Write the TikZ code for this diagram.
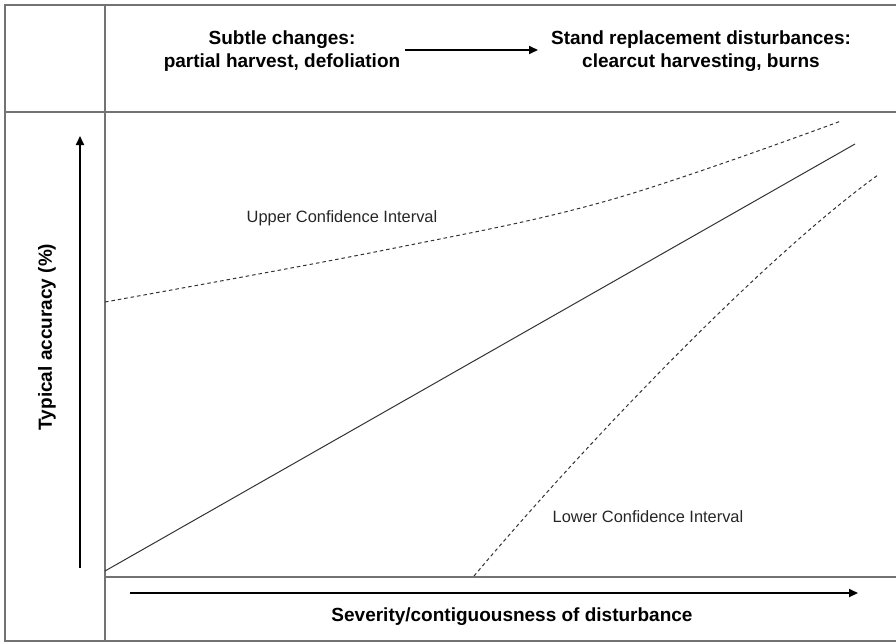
\documentclass[tikz,border=0pt]{standalone}
\usepackage{fontspec}
\setmainfont{Liberation Sans}
\usetikzlibrary{arrows.meta}

\begin{document}
\begin{tikzpicture}[x=1pt,y=-1pt,
  frame/.style={draw=black!55, line width=1.5pt},
  axisarrow/.style={line width=2pt, -{Triangle[length=9pt,width=8pt]}},
  heading/.style={font=\fontsize{19}{22}\selectfont\bfseries, anchor=base, inner sep=0pt},
  cilabel/.style={font=\fontsize{16.4}{19}\selectfont, text=black!85, inner sep=0pt},
  ciline/.style={draw=black!80, line width=1pt, dash pattern=on 3.5pt off 3pt},
  fitline/.style={draw=black!80, line width=1pt}]
\useasboundingbox (0,0) rectangle (896,642);

% table frame
\draw[frame] (896,5) -- (5,5) -- (5,641) -- (896,641);
\draw[frame] (105,5) -- (105,641);
\draw[frame] (5,112) -- (896,112);
\draw[frame] (105,577) -- (896,577);

% header: from subtle changes to stand replacement
\node[heading] (sub1) at (282,45) {Subtle changes:};
\node[heading] (sub2) at (282,67) {partial harvest, defoliation};
\node[heading] (std1) at (701,45) {Stand replacement disturbances:};
\node[heading] (std2) at (701,67) {clearcut harvesting, burns};
\coordinate (hA) at (405,50);
\coordinate (hB) at (538,50);
\draw[axisarrow] (hA) -- (hB);

% axes
\coordinate (yA) at (80,568);
\coordinate (yB) at (80,136);
\draw[axisarrow] (yA) -- (yB);
\node[font=\fontsize{19}{22}\selectfont\bfseries, rotate=90, inner sep=0pt] (ylab) at (47,337) {Typical accuracy (\%)};

\coordinate (xA) at (130,593);
\coordinate (xB) at (858,593);
\draw[axisarrow] (xA) -- (xB);
\node[font=\fontsize{19}{22}\selectfont\bfseries, inner sep=0pt] (xlab) at (512,617) {Severity/contiguousness of disturbance};

% accuracy trend and confidence bounds
\coordinate (fitA) at (105,571);
\coordinate (fitB) at (855,144);
\draw[fitline] (fitA) -- (fitB);

\draw[ciline] plot[smooth, tension=0.6] coordinates {(105,302) (390,249) (610,200) (841,121)};
\coordinate (loA) at (474,576);
\coordinate (loB) at (878,175);
\draw[ciline] (loA) .. controls (580,450) and (760,260) .. (loB);

\node[cilabel] (upper) at (342,218) {Upper Confidence Interval};
\node[cilabel] (lower) at (648,517) {Lower Confidence Interval};
\end{tikzpicture}
\end{document}
